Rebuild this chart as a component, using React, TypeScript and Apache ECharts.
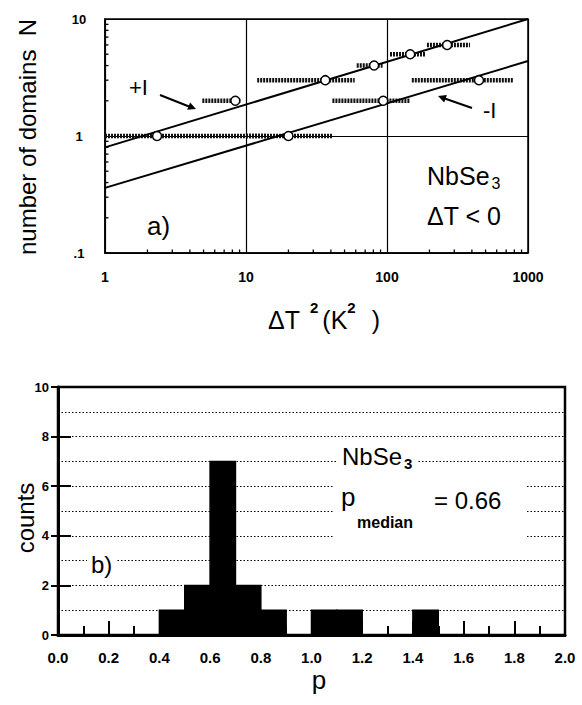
import React, { useEffect, useRef } from "react";
import * as echarts from "echarts";

// ---- panel a) : number of domains N vs dT^2 (log-log) ----
const upperX = [2.34, 8.4, 36.5, 81, 146, 267];
const upperN = [1, 2, 3, 4, 5, 6];
const upperLo = [1, 4.9, 12, 61, 105, 192];
const upperHi = [14, 9.2, 59, 93, 186, 388];

const lowerX = [20, 94, 449];
const lowerN = [1, 2, 3];
const lowerLo = [10, 41, 150];
const lowerHi = [41, 146, 783];

const fitX = [1, 1000];
const fitUpperN = [0.8, 10];
const fitLowerN = [0.36, 4.37];

const xMinorTicks = [2, 3, 4, 5, 6, 7, 8, 9, 20, 30, 40, 50, 60, 70, 80, 90, 200, 300, 400, 500, 600, 700, 800, 900];
const yMinorTicks = [0.2, 0.3, 0.4, 0.5, 0.6, 0.7, 0.8, 0.9, 2, 3, 4, 5, 6, 7, 8, 9];

// ---- panel b) : histogram of p ----
const binStart = [0.4, 0.5, 0.6, 0.7, 0.8, 1.0, 1.1, 1.4];
const binCounts = [1, 2, 7, 2, 1, 1, 1, 1];
const binWidth = 0.1;

const FONT = "Liberation Sans, Arial, Helvetica, sans-serif";

export default function App() {
  const ref = useRef<HTMLDivElement>(null);

  useEffect(() => {
    if (!ref.current) return;
    const chart = echarts.init(ref.current, null, { renderer: "svg" });

    const errRows = [
      ...upperN.map((n, i) => [upperLo[i], upperHi[i], n]),
      ...lowerN.map((n, i) => [lowerLo[i], lowerHi[i], n]),
    ];
    const histRows = binStart.map((s, i) => [s, s + binWidth, binCounts[i]]);

    const option: any = {
      animation: false,
      backgroundColor: "#fff",
      textStyle: { fontFamily: FONT, color: "#000" },
      grid: [
        { left: 105, top: 19, width: 423, height: 234, show: true, borderColor: "#000", borderWidth: 1.5, backgroundColor: "transparent" },
        { left: 58, top: 387, width: 507, height: 248, show: true, borderColor: "#000", borderWidth: 2.5, backgroundColor: "transparent" },
      ],
      xAxis: [
        {
          gridIndex: 0, type: "log", logBase: 10, min: 1, max: 1000,
          axisLine: { show: true, lineStyle: { color: "#000", width: 1.5 } },
          axisTick: { show: false },
          axisLabel: {
            color: "#000", fontSize: 14, fontWeight: "bold", fontFamily: FONT, margin: 17,
            formatter: (v: number) => String(Math.round(v)),
          },
          splitLine: { show: true, lineStyle: { color: "#000", width: 1.2 } },
        },
        {
          gridIndex: 1, type: "value", min: 0, max: 2, interval: 0.2,
          axisLine: { show: true, onZero: false, lineStyle: { color: "#000", width: 3 } },
          axisTick: { show: true, inside: true, length: 14, lineStyle: { color: "#000", width: 2 } },
          minorTick: { show: true, splitNumber: 2, length: 9, lineStyle: { color: "#000", width: 2 } },
          axisLabel: {
            color: "#000", fontSize: 15, fontWeight: "bold", fontFamily: FONT, margin: 15,
            formatter: (v: number) => v.toFixed(1),
          },
          splitLine: { show: false },
        },
      ],
      yAxis: [
        {
          gridIndex: 0, type: "log", logBase: 10, min: 0.1, max: 10,
          axisLine: { show: true, lineStyle: { color: "#000", width: 1.5 } },
          axisTick: { show: false },
          axisLabel: {
            color: "#000", fontSize: 13, fontWeight: "bold", fontFamily: FONT, margin: 26, align: "center",
            formatter: (v: number) => (v < 0.5 ? ".1" : String(Math.round(v))),
          },
          splitLine: { show: true, lineStyle: { color: "#000", width: 1.2 } },
        },
        {
          gridIndex: 1, type: "value", min: 0, max: 10, interval: 2,
          axisLine: { show: true, onZero: false, lineStyle: { color: "#000", width: 3 } },
          axisTick: { show: true, inside: true, length: 13, lineStyle: { color: "#000", width: 2 } },
          minorTick: { show: false, splitNumber: 2 },
          axisLabel: { color: "#000", fontSize: 13, fontWeight: "bold", fontFamily: FONT, margin: 9 },
          splitLine: { show: true, lineStyle: { color: "#000", width: 1.2, type: [1.5, 2] } },
          minorSplitLine: { show: true, lineStyle: { color: "#000", width: 1.2, type: [1.5, 2] } },
        },
        {
          gridIndex: 1, type: "value", min: 0, max: 10, interval: 2, position: "right",
          axisLine: { show: true, lineStyle: { color: "#000", width: 2 } },
          axisTick: { show: true, inside: true, length: 7, lineStyle: { color: "#000", width: 2 } },
          axisLabel: { show: false },
          splitLine: { show: false },
        },
      ],
      series: [
        {
          type: "line", xAxisIndex: 0, yAxisIndex: 0, symbol: "none", z: 3,
          data: fitX.map((x, i) => [x, fitUpperN[i]]),
          lineStyle: { color: "#000", width: 2 },
        },
        {
          type: "line", xAxisIndex: 0, yAxisIndex: 0, symbol: "none", z: 3,
          data: fitX.map((x, i) => [x, fitLowerN[i]]),
          lineStyle: { color: "#000", width: 2 },
        },
        {
          type: "custom", xAxisIndex: 0, yAxisIndex: 0, z: 2, clip: true,
          encode: { x: [0, 1], y: 2 },
          data: errRows,
          renderItem: (_p: any, api: any) => {
            const a = api.coord([api.value(0), api.value(2)]);
            const b = api.coord([api.value(1), api.value(2)]);
            return {
              type: "line",
              shape: { x1: a[0], y1: a[1], x2: b[0], y2: b[1] },
              style: { stroke: "#111", lineWidth: 4.5, lineDash: [2, 1] },
            };
          },
        },
        {
          type: "custom", xAxisIndex: 0, yAxisIndex: 0, z: 2, clip: false,
          encode: { x: 0 },
          data: xMinorTicks.map((v) => [v]),
          renderItem: (_p: any, api: any) => {
            const a = api.coord([api.value(0), 0.1]);
            return {
              type: "line",
              shape: { x1: a[0], y1: a[1], x2: a[0], y2: a[1] - 3.5 },
              style: { stroke: "#000", lineWidth: 1.3 },
            };
          },
        },
        {
          type: "custom", xAxisIndex: 0, yAxisIndex: 0, z: 2, clip: false,
          encode: { y: 0 },
          data: yMinorTicks.map((v) => [v]),
          renderItem: (_p: any, api: any) => {
            const a = api.coord([1, api.value(0)]);
            return {
              type: "line",
              shape: { x1: a[0], y1: a[1], x2: a[0] + 3.5, y2: a[1] },
              style: { stroke: "#000", lineWidth: 1.3 },
            };
          },
        },
        {
          type: "scatter", xAxisIndex: 0, yAxisIndex: 0, z: 5, symbol: "circle", symbolSize: 9,
          data: upperX.map((x, i) => [x, upperN[i]]),
          itemStyle: { color: "#fff", borderColor: "#000", borderWidth: 1.5, opacity: 1 },
        },
        {
          type: "scatter", xAxisIndex: 0, yAxisIndex: 0, z: 5, symbol: "circle", symbolSize: 9,
          data: lowerX.map((x, i) => [x, lowerN[i]]),
          itemStyle: { color: "#fff", borderColor: "#000", borderWidth: 1.5, opacity: 1 },
        },
        {
          type: "custom", xAxisIndex: 1, yAxisIndex: 1, z: 3,
          encode: { x: [0, 1], y: 2 },
          data: histRows,
          renderItem: (_p: any, api: any) => {
            const p0 = api.coord([api.value(0), api.value(2)]);
            const p1 = api.coord([api.value(1), 0]);
            return {
              type: "rect",
              shape: { x: p0[0], y: p0[1], width: p1[0] - p0[0], height: p1[1] - p0[1] },
              style: { fill: "#000", stroke: "#000", lineWidth: 1.5 },
            };
          },
        },
      ],
      graphic: [
        // axis titles panel a)
        {
          type: "text", x: 27, y: 137, rotation: Math.PI / 2, z: 100,
          style: { text: "number of domains  N", font: `24px ${FONT}`, fill: "#000", align: "center", verticalAlign: "middle" },
        },
        {
          type: "text", x: 268, y: 320, z: 100,
          style: {
            text: "{m|ΔT}{s1|2}{m|(K}{s2|2}{m|)}",
            align: "left", verticalAlign: "middle", fill: "#000",
            rich: {
              m: { font: `25px ${FONT}`, lineHeight: 40, verticalAlign: "middle", fill: "#000" },
              s1: { font: `bold 15px ${FONT}`, lineHeight: 14, verticalAlign: "top", fill: "#000", padding: [0, 4, 0, 10] },
              s2: { font: `bold 15px ${FONT}`, lineHeight: 14, verticalAlign: "top", fill: "#000", padding: [0, 16, 0, 0] },
            },
          },
        },
        // annotations panel a)
        { type: "text", x: 129, y: 87, z: 100, style: { text: "+I", font: `22px ${FONT}`, fill: "#000", align: "left", verticalAlign: "middle" } },
        { type: "line", z: 100, shape: { x1: 160, y1: 95, x2: 189, y2: 106.5 }, style: { stroke: "#000", lineWidth: 2 } },
        { type: "polygon", z: 100, shape: { points: [[196, 109], [187.1, 109.8], [190.1, 102.4]] }, style: { fill: "#000" } },
        { type: "text", x: 483, y: 110, z: 100, style: { text: "-I", font: `22px ${FONT}`, fill: "#000", align: "left", verticalAlign: "middle" } },
        { type: "line", z: 100, shape: { x1: 472, y1: 108, x2: 444, y2: 98.3 }, style: { stroke: "#000", lineWidth: 2 } },
        { type: "polygon", z: 100, shape: { points: [[438, 96], [446.9, 94.9], [444.2, 102.5]] }, style: { fill: "#000" } },
        { type: "text", x: 147, y: 226, z: 100, style: { text: "a)", font: `26px ${FONT}`, fill: "#000", align: "left", verticalAlign: "middle" } },
        {
          type: "text", x: 427, y: 176, z: 100,
          style: {
            text: "{m|NbSe}{s|3}", align: "left", verticalAlign: "middle",
            rich: {
              m: { font: `25px ${FONT}`, lineHeight: 30, verticalAlign: "middle", fill: "#000" },
              s: { font: `16px ${FONT}`, lineHeight: 15, verticalAlign: "bottom", fill: "#000", padding: [0, 0, 0, 2] },
            },
          },
        },
        { type: "text", x: 427, y: 216, z: 100, style: { text: "ΔT < 0", font: `25px ${FONT}`, fill: "#000", align: "left", verticalAlign: "middle" } },

        // axis titles panel b)
        {
          type: "text", x: 25, y: 518, rotation: Math.PI / 2, z: 100,
          style: { text: "counts", font: `24px ${FONT}`, fill: "#000", align: "center", verticalAlign: "middle" },
        },
        { type: "text", x: 319, y: 680, z: 100, style: { text: "p", font: `26px ${FONT}`, fill: "#000", align: "center", verticalAlign: "middle" } },

        // annotations panel b)
        {
          type: "text", x: 87, y: 564, z: 100,
          style: { text: "b)", font: `24px ${FONT}`, fill: "#000", align: "left", verticalAlign: "middle", backgroundColor: "#fff", padding: [0, 4, 0, 4] },
        },
        {
          type: "text", x: 337, y: 456, z: 100,
          style: {
            text: "{m|NbSe}{s|3}", align: "left", verticalAlign: "middle", backgroundColor: "#fff", padding: [0, 5, 0, 5],
            rich: {
              m: { font: `24px ${FONT}`, lineHeight: 30, verticalAlign: "middle", fill: "#000" },
              s: { font: `bold 15px ${FONT}`, lineHeight: 15, verticalAlign: "bottom", fill: "#000", padding: [0, 0, 0, 2] },
            },
          },
        },
        { type: "rect", z: 90, shape: { x: 334, y: 484, width: 191, height: 54 }, style: { fill: "#fff" } },
        { type: "text", x: 341, y: 497, z: 100, style: { text: "p", font: `26px ${FONT}`, fill: "#000", align: "left", verticalAlign: "middle" } },
        { type: "text", x: 357, y: 522, z: 100, style: { text: "median", font: `bold 16px ${FONT}`, fill: "#000", align: "left", verticalAlign: "middle" } },
        { type: "text", x: 434, y: 500, z: 100, style: { text: "= 0.66", font: `24px ${FONT}`, fill: "#000", align: "left", verticalAlign: "middle" } },
      ],
    };

    chart.setOption(option);
    return () => chart.dispose();
  }, []);

  return (
    <div
      ref={ref}
      style={{ position: "fixed", left: 0, top: 0, width: 582, height: 705, background: "#fff" }}
    />
  );
}
